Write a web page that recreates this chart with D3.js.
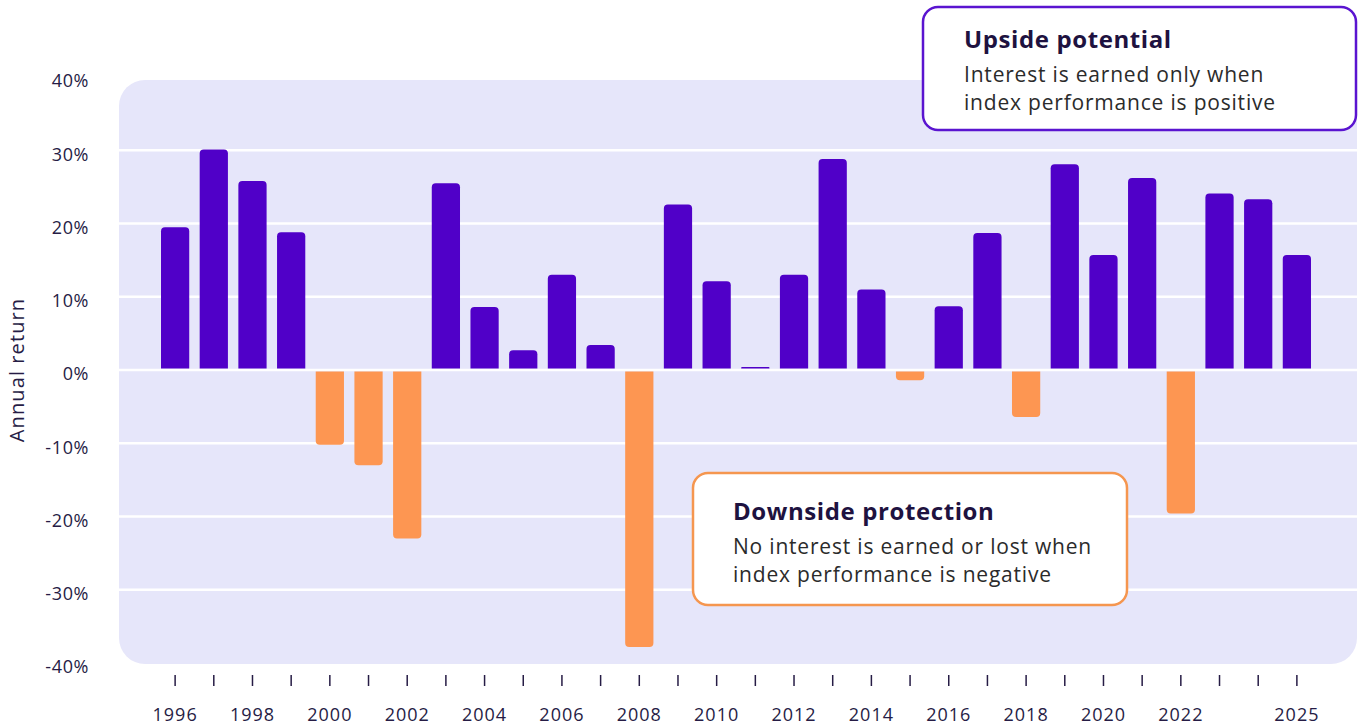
<!DOCTYPE html>
<html>
<head>
<meta charset="utf-8">
<script src="https://cdn.jsdelivr.net/npm/d3@7"></script>
<style>
  body { margin: 0; background: #fff; }
  svg text { font-family: "Open Sans", "Noto Sans", sans-serif; }
</style>
</head>
<body>
<div id="chart"></div>
<script>
// Data
var years = [1996, 1997, 1998, 1999, 2000, 2001, 2002, 2003, 2004, 2005,
             2006, 2007, 2008, 2009, 2010, 2011, 2012, 2013, 2014, 2015,
             2016, 2017, 2018, 2019, 2020, 2021, 2022, 2023, 2024, 2025];
var returns = [19.5, 30.1, 25.8, 18.8, -10.2, -13.0, -23.0, 25.5, 8.6, 2.7,
               13.0, 3.4, -37.8, 22.6, 12.1, 0.4, 13.0, 28.8, 11.0, -1.4,
               8.7, 18.7, -6.4, 28.1, 15.7, 26.2, -19.6, 24.1, 23.3, 15.7];
var yTicks = [40, 30, 20, 10, 0, -10, -20, -30, -40];
var gridValues = [30, 20, 10, 0, -10, -20, -30];
var xLabelYears = [1996, 1998, 2000, 2002, 2004, 2006, 2008, 2010, 2012,
                   2014, 2016, 2018, 2020, 2022, 2025];

var svgWidth = 1361;
var svgHeight = 725;

var svg = d3.select("#chart")
  .append("svg")
  .attr("width", svgWidth)
  .attr("height", svgHeight);

// scales
var xScale = d3.scaleBand()
  .domain(years)
  .range([161, 1311])
  .paddingInner(0.27)
  .paddingOuter(0);

var yScale = d3.scaleLinear()
  .domain([-40, 40])
  .range([663, 77]);

// plot background
svg.append("rect")
  .attr("x", 119)
  .attr("y", 80)
  .attr("width", 1238)
  .attr("height", 584)
  .attr("rx", 26)
  .attr("fill", "#e6e6fa");

// gridlines
svg.append("g")
  .selectAll("line")
  .data(gridValues)
  .enter()
  .append("line")
  .attr("x1", 119)
  .attr("x2", 1357)
  .attr("y1", d => yScale(d))
  .attr("y2", d => yScale(d))
  .attr("stroke", "#fff")
  .attr("stroke-width", 2.5);

// y axis
var yAxis = d3.axisLeft(yScale)
  .tickValues(yTicks)
  .tickSize(0)
  .tickPadding(0)
  .tickFormat(d => d + "%");

svg.append("g")
  .attr("transform", "translate(89,4)")
  .call(yAxis)
  .call(g => g.select(".domain").remove())
  .selectAll("text")
  .attr("fill", "#261c45")
  .style("font-size", "18px")
  .style("letter-spacing", "0.6px");

svg.append("text")
  .attr("transform", "translate(24,370) rotate(-90)")
  .attr("text-anchor", "middle")
  .attr("fill", "#261c45")
  .style("font-size", "20px")
  .style("letter-spacing", "1.1px")
  .text("Annual return");

// bars with rounded end away from zero
var r = 4;
function barPath(d, i) {
  var x0 = xScale(years[i]);
  var w = xScale.bandwidth();
  var y0 = yScale(0) + (d >= 0 ? -1.5 : 1.5);
  var y1 = yScale(d);
  var h = Math.abs(y1 - y0);
  var rr = Math.min(r, h / 2);
  var s = d >= 0 ? 1 : -1;
  return "M" + x0 + "," + y0 +
    "V" + (y1 + s * rr) +
    "Q" + x0 + "," + y1 + " " + (x0 + rr) + "," + y1 +
    "H" + (x0 + w - rr) +
    "Q" + (x0 + w) + "," + y1 + " " + (x0 + w) + "," + (y1 + s * rr) +
    "V" + y0 + "Z";
}

svg.append("g")
  .selectAll("path")
  .data(returns)
  .enter()
  .append("path")
  .attr("d", barPath)
  .attr("fill", d => d >= 0 ? "#5000c8" : "#fd9652");

// x axis ticks and labels
var xAxis = d3.axisBottom(xScale)
  .tickSize(11)
  .tickPadding(22)
  .tickFormat(d => xLabelYears.indexOf(d) >= 0 ? d : "");

var xg = svg.append("g")
  .attr("transform", "translate(0,675)")
  .call(xAxis);
xg.select(".domain").remove();
xg.selectAll(".tick line").attr("stroke", "#261c45").attr("stroke-width", 1.5);
xg.selectAll(".tick text")
  .attr("fill", "#261c45")
  .style("font-size", "18px")
  .style("letter-spacing", "1px");

// callout boxes
function callout(x, y, w, h, color, title, lines, tx, ty) {
  var g = svg.append("g");
  g.append("rect")
    .attr("x", x).attr("y", y)
    .attr("width", w).attr("height", h)
    .attr("rx", 15)
    .attr("fill", "#fff")
    .attr("stroke", color)
    .attr("stroke-width", 2.5);
  g.append("text")
    .attr("x", tx).attr("y", ty)
    .attr("fill", "#1e1240")
    .style("font-size", "24px")
    .style("font-weight", "bold")
    .style("letter-spacing", "0.6px")
    .text(title);
  lines.forEach(function(l, i) {
    g.append("text")
      .attr("x", tx).attr("y", ty + 34 + i * 28)
      .attr("fill", "#2b2b2b")
      .style("font-size", "21px")
      .style("letter-spacing", "0.8px")
      .text(l);
  });
}

callout(923, 7, 433, 123, "#5a14d0", "Upside potential",
  ["Interest is earned only when", "index performance is positive"], 964, 48);
callout(693, 473, 434, 132, "#f5964f", "Downside protection",
  ["No interest is earned or lost when", "index performance is negative"], 733, 520);
</script>
</body>
</html>
